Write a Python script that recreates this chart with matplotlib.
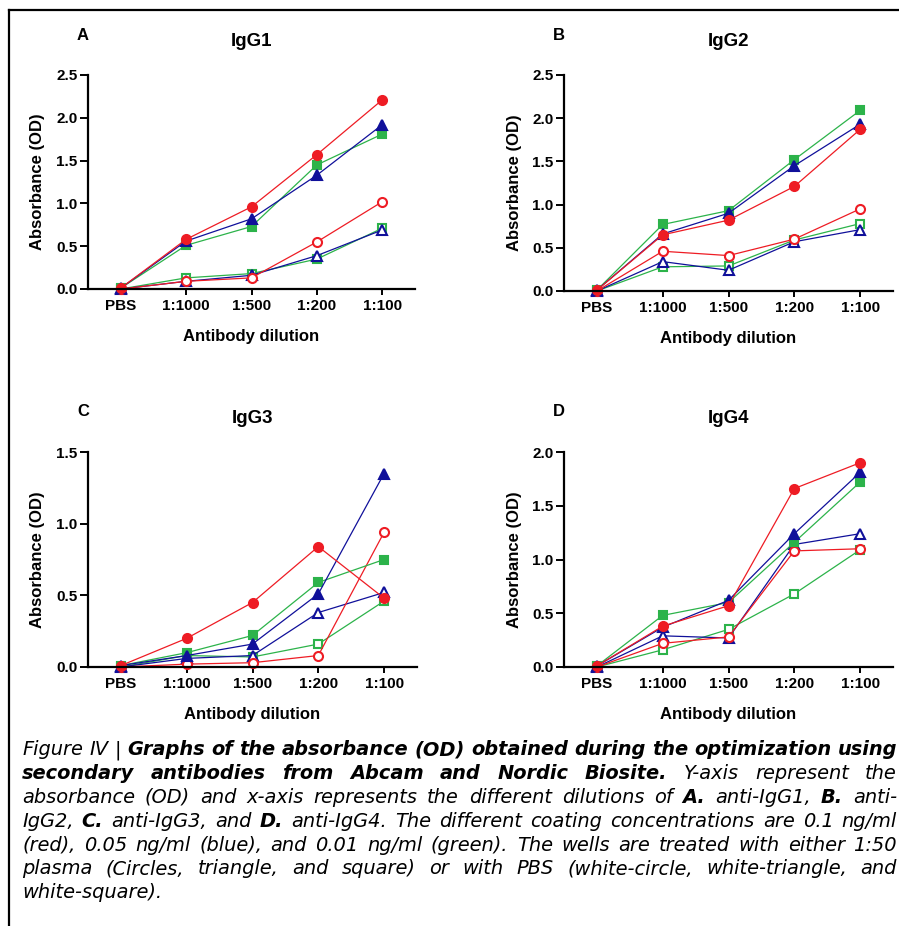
import matplotlib.pyplot as plt
from matplotlib.lines import Line2D

# Categories on the x-axis
dilutions = ['PBS', '1:1000', '1:500', '1:200', '1:100']

# IgG1 (panel A)
igg1_red_plasma = [0.01, 0.58, 0.96, 1.57, 2.21]
igg1_blue_plasma = [0.01, 0.56, 0.82, 1.33, 1.92]
igg1_green_plasma = [0.01, 0.51, 0.73, 1.45, 1.81]
igg1_red_pbs = [0.0, 0.09, 0.13, 0.55, 1.02]
igg1_blue_pbs = [0.0, 0.09, 0.16, 0.39, 0.69]
igg1_green_pbs = [0.0, 0.13, 0.18, 0.35, 0.71]

# IgG2 (panel B)
igg2_red_plasma = [0.01, 0.65, 0.82, 1.21, 1.87]
igg2_blue_plasma = [0.01, 0.66, 0.90, 1.45, 1.93]
igg2_green_plasma = [0.01, 0.77, 0.93, 1.52, 2.09]
igg2_red_pbs = [0.0, 0.46, 0.41, 0.60, 0.95]
igg2_blue_pbs = [0.0, 0.34, 0.24, 0.57, 0.71]
igg2_green_pbs = [0.0, 0.28, 0.29, 0.59, 0.78]

# IgG3 (panel C)
igg3_red_plasma = [0.01, 0.20, 0.45, 0.84, 0.48]
igg3_blue_plasma = [0.01, 0.08, 0.16, 0.51, 1.35]
igg3_green_plasma = [0.01, 0.10, 0.22, 0.59, 0.75]
igg3_red_pbs = [0.0, 0.02, 0.03, 0.08, 0.94]
igg3_blue_pbs = [0.0, 0.06, 0.08, 0.38, 0.52]
igg3_green_pbs = [0.0, 0.08, 0.07, 0.16, 0.46]

# IgG4 (panel D)
igg4_red_plasma = [0.01, 0.38, 0.57, 1.66, 1.90]
igg4_blue_plasma = [0.01, 0.37, 0.62, 1.24, 1.81]
igg4_green_plasma = [0.01, 0.48, 0.60, 1.16, 1.72]
igg4_red_pbs = [0.0, 0.22, 0.28, 1.08, 1.10]
igg4_blue_pbs = [0.0, 0.29, 0.27, 1.14, 1.24]
igg4_green_pbs = [0.0, 0.16, 0.35, 0.68, 1.09]

RED = '#ee1c24'
BLUE = '#10109a'
GREEN = '#2cb34a'

W, H = 899, 926
fig = plt.figure(figsize=(W / 100, H / 100), dpi=100)
plt.rcParams['font.family'] = ['Liberation Sans', 'DejaVu Sans']


def fx(px):
    return px / W


def fy(py):
    return 1 - py / H


# letter, title, (left, top, right, bottom) in pixels, ymax, series
panels = [
    ('A', 'IgG1', (88, 75, 415, 289), 2.5,
     [igg1_green_pbs, igg1_blue_pbs, igg1_red_pbs,
      igg1_green_plasma, igg1_blue_plasma, igg1_red_plasma]),
    ('B', 'IgG2', (564, 75, 893, 291), 2.5,
     [igg2_green_pbs, igg2_blue_pbs, igg2_red_pbs,
      igg2_green_plasma, igg2_blue_plasma, igg2_red_plasma]),
    ('C', 'IgG3', (88, 452, 417, 667), 1.5,
     [igg3_green_pbs, igg3_blue_pbs, igg3_red_pbs,
      igg3_green_plasma, igg3_blue_plasma, igg3_red_plasma]),
    ('D', 'IgG4', (564, 452, 893, 667), 2.0,
     [igg4_green_pbs, igg4_blue_pbs, igg4_red_pbs,
      igg4_green_plasma, igg4_blue_plasma, igg4_red_plasma]),
]

styles = [
    (GREEN, 's', 'white'), (BLUE, '^', 'white'), (RED, 'o', 'white'),
    (GREEN, 's', GREEN), (BLUE, '^', BLUE), (RED, 'o', RED),
]

x = list(range(len(dilutions)))

for letter, title, (l, t, r, b), ymax, series in panels:
    ax = fig.add_axes([fx(l), fy(b), fx(r) - fx(l), fy(t) - fy(b)])
    for vals, (col, mk, face) in zip(series, styles):
        ax.plot(x, vals, color=col, lw=0.9, marker=mk, ms=6.5 if mk != 's' else 6,
                mfc=face, mec=col, mew=1.5, clip_on=False)
    ax.set_xlim(-0.5, 4.5)
    ax.set_ylim(0, ymax)
    ticks = [i * 0.5 for i in range(int(ymax / 0.5) + 1)]
    ax.set_yticks(ticks)
    ax.set_yticklabels(['%.1f' % v for v in ticks])
    ax.set_xticks(x)
    ax.set_xticklabels(dilutions)
    for s in ['top', 'right']:
        ax.spines[s].set_visible(False)
    for s in ['left', 'bottom']:
        ax.spines[s].set_linewidth(1.6)
    ax.tick_params(axis='y', length=6, width=1.4, pad=1.5, labelsize=11)
    ax.tick_params(axis='x', length=4.5, width=1.4, pad=3, labelsize=11)
    for lab in ax.get_xticklabels() + ax.get_yticklabels():
        lab.set_fontweight('bold')

    cx = (l + r) / 2
    fig.text(fx(cx), fy(t - 33), title, fontsize=13.5, fontweight='bold',
             ha='center', va='center')
    fig.text(fx(l - 5), fy(t - 40), letter, fontsize=12, fontweight='bold',
             ha='center', va='center')
    fig.text(fx(cx), fy(b + 47), 'Antibody dilution', fontsize=12,
             fontweight='bold', ha='center', va='center')
    fig.text(fx(l - 50), fy((t + b) / 2), 'Absorbance (OD)', fontsize=12,
             fontweight='bold', ha='center', va='center', rotation=90)

# frame lines at top and left of the figure
fig.add_artist(Line2D([fx(9), 1], [fy(9.5), fy(9.5)], color='black', lw=1.6))
fig.add_artist(Line2D([fx(9), fx(9)], [fy(9.5), 0], color='black', lw=1.6))

# Caption, justified
caption_lines = [
    [('Figure IV |', False),
     ('Graphs of the absorbance (OD) obtained during the optimization using', True)],
    [('secondary antibodies from Abcam and Nordic Biosite.', True),
     ('Y-axis represent the', False)],
    [('absorbance (OD) and x-axis represents the different dilutions of', False),
     ('A.', True), ('anti-IgG1,', False), ('B.', True), ('anti-', False)],
    [('IgG2,', False), ('C.', True), ('anti-IgG3, and', False), ('D.', True),
     ('anti-IgG4. The different coating concentrations are 0.1 ng/ml', False)],
    [('(red), 0.05 ng/ml (blue), and 0.01 ng/ml (green). The wells are treated with either 1:50', False)],
    [('plasma (Circles, triangle, and square) or with PBS (white-circle, white-triangle, and', False)],
    [('white-square).', False)],
]

cap_font = ['DejaVu Sans']

x_left, x_right = 22, 897
baseline0, line_step = 755, 23.9

renderer = fig.canvas.get_renderer()


def word_width(word, bold, size):
    tt = fig.text(0, 0, word, fontsize=size, style='italic',
                  fontweight='bold' if bold else 'normal', family=cap_font)
    w = tt.get_window_extent(renderer).width
    tt.remove()
    return w


def split_words(segs):
    words = []
    for text, bold in segs:
        for wd in text.split(' '):
            words.append((wd, bold))
    return words


# size the caption so the first line fills the width with normal spaces
ref_size = 10
first = split_words(caption_lines[0])
nat = sum(word_width(wd, bd, ref_size) for wd, bd in first)
nat += (len(first) - 1) * (word_width('a a', False, ref_size) - word_width('aa', False, ref_size))
cap_size = min(ref_size * (x_right - x_left) / nat, 14.0)

space_w = word_width('a a', False, cap_size) - word_width('aa', False, cap_size)

for i, segs in enumerate(caption_lines):
    words = split_words(segs)
    widths = [word_width(wd, bd, cap_size) for wd, bd in words]
    last = i == len(caption_lines) - 1
    if last or len(words) < 2:
        gap = space_w
    else:
        gap = (x_right - x_left - sum(widths)) / (len(words) - 1)
    xp = x_left
    yb = baseline0 + i * line_step
    for (wd, bd), w in zip(words, widths):
        fig.text(fx(xp), fy(yb), wd, fontsize=cap_size, style='italic',
                 fontweight='bold' if bd else 'normal', family=cap_font,
                 ha='left', va='baseline')
        xp += w + gap

fig.savefig('out.png', dpi=100)
